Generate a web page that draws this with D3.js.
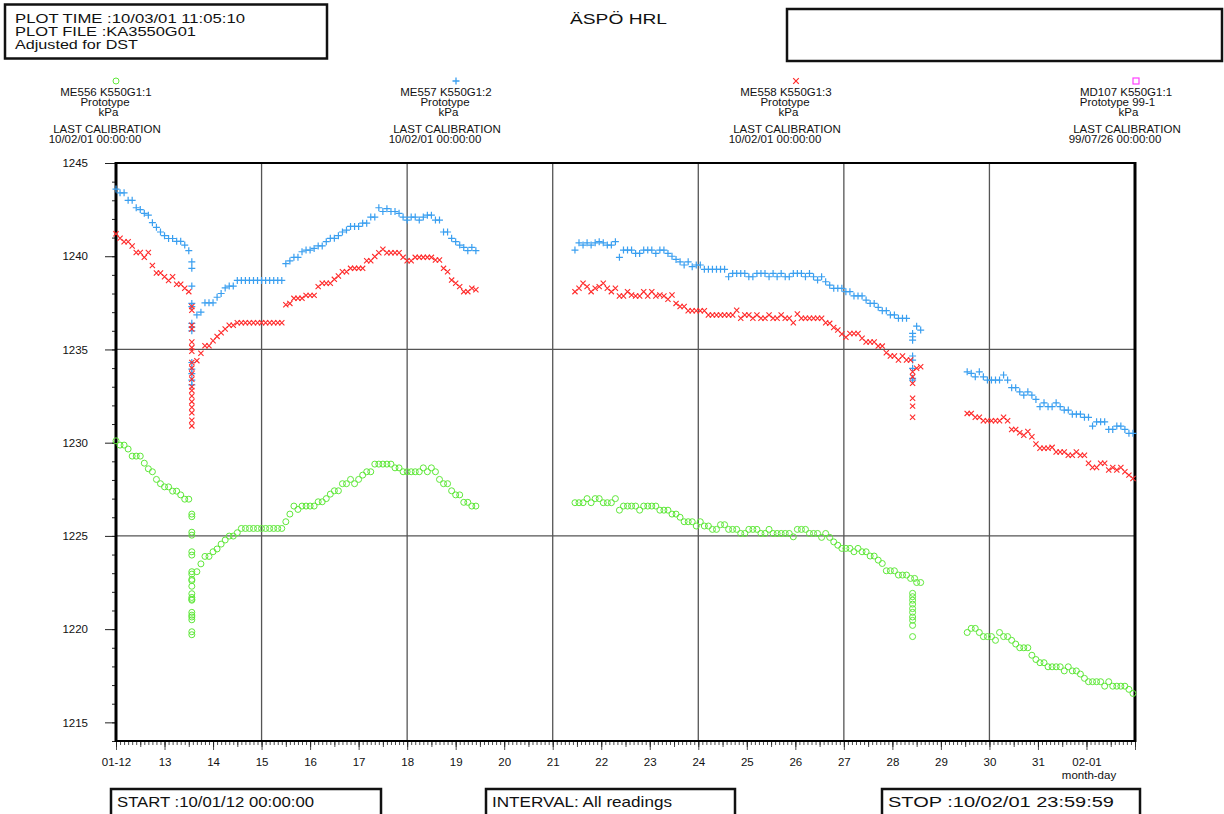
<!DOCTYPE html>
<html><head><meta charset="utf-8">
<script src="https://cdn.jsdelivr.net/npm/d3@7"></script>
<style>
body{margin:0;background:#fff}
svg text{font-family:"Liberation Sans",Arial,Helvetica,sans-serif;fill:#111}
</style>
</head><body>
<svg id="chart" width="1224" height="814"></svg>
<script>
// ---------------- DATA ----------------
const headerLines = ["PLOT TIME :10/03/01 11:05:10", "PLOT FILE :KA3550G01", "Adjusted for DST"];
const title = "ÄSPÖ HRL";
const startLabel = "START :10/01/12 00:00:00";
const intervalLabel = "INTERVAL: All readings";
const stopLabel = "STOP :10/02/01 23:59:59";

const legendNames = ["ME556 K550G1:1", "ME557 K550G1:2", "ME558 K550G1:3", "MD107 K550G1:1"];
const legendTypes = ["Prototype", "Prototype", "Prototype", "Prototype 99-1"];
const legendUnits = ["kPa", "kPa", "kPa", "kPa"];
const legendCal = ["10/02/01 00:00:00", "10/02/01 00:00:00", "10/02/01 00:00:00", "99/07/26 00:00:00"];

const yTicks = [1215, 1220, 1225, 1230, 1235, 1240, 1245];
const yGrid = [1225, 1235];
const xGridDays = [15, 18, 21, 24, 27, 30];

// time: hours after 2010-01-12 00:00, readings logged every 2 h
const stepHours = 2;
const seg1Start = 0, drop1Hour = 37.5, seg1bStart = 40;
const seg2Start = 227, drop2Hour = 394, seg2bStart = 396;
const seg3Start = 421;

// ME556 (green circles)
const green1a = [1230.1,1229.87,1229.87,1229.66,1229.28,1229.28,1229.28,1228.9,1228.6,1228.44,1228.03,1227.8,1227.63,1227.63,1227.4,1227.4,1227.2,1226.97,1226.97];
const green1drop = [1226.17,1226.03,1225.2,1225.04,1224.15,1223.97,1223.08,1222.95,1222.67,1222.6,1222.3,1221.9,1221.7,1221.6,1221.55,1220.9,1220.75,1220.65,1220.5,1219.86,1219.7];
const green1b = [1223.08,1223.5,1223.9,1223.9,1224.15,1224.3,1224.56,1224.78,1224.99,1224.99,1225.17,1225.4,
  1225.4,1225.4,1225.4,1225.4,1225.4,1225.4,1225.4,1225.4,1225.4,1225.4,
  1225.76,1226.17,1226.6,1226.42,1226.6,1226.6,1226.6,1226.6,1226.83,1226.83,
  1227.0,1227.24,1227.42,1227.42,1227.8,1227.8,1228.03,1227.8,1228.03,1228.26,
  1228.44,1228.44,1228.85,1228.85,1228.85,1228.85,1228.85,1228.65,1228.65,1228.44,
  1228.44,1228.44,1228.44,1228.44,1228.65,1228.44,1228.65,1228.44,1228.03,1227.8,
  1227.8,1227.42,1227.2,1227.2,1226.8,1226.8,1226.6,1226.6];
const green2a = [1226.78,1226.78,1226.78,1227.0,1226.78,1227.0,1227.0,1226.78,1226.78,1226.78,
  1227.0,1226.38,1226.6,1226.6,1226.6,1226.6,1226.38,1226.6,1226.6,1226.6,
  1226.6,1226.38,1226.38,1226.38,1226.17,1226.17,1226.0,1225.76,1225.76,1225.76,
  1225.53,1225.76,1225.53,1225.53,1225.35,1225.35,1225.6,1225.6,1225.35,1225.35,
  1225.35,1225.13,1225.13,1225.35,1225.35,1225.35,1225.13,1225.13,1225.35,1225.13,
  1225.13,1225.13,1225.13,1225.13,1224.95,1225.35,1225.35,1225.35,1225.13,1225.13,
  1225.13,1224.92,1225.13,1224.92,1224.68,1224.5,1224.33,1224.33,1224.33,1224.15,
  1224.33,1224.15,1224.15,1223.92,1223.92,1223.7,1223.52,1223.13,1223.13,1223.13,
  1222.9,1222.9,1222.9,1222.72,1222.72];
const green2drop = [1221.92,1221.74,1221.55,1221.34,1221.1,1220.9,1220.65,1220.47,1220.2,1219.6];
const green2b = [1222.5,1222.5];
const green3 = [1219.82,1220.04,1220.04,1219.82,1219.6,1219.6,1219.6,1219.4,1219.82,1219.6,
  1219.6,1219.4,1219.2,1219.0,1219.0,1219.0,1218.6,1218.37,1218.2,1218.2,
  1217.98,1217.98,1217.98,1217.98,1217.76,1217.98,1217.76,1217.76,1217.59,1217.36,
  1217.18,1217.18,1217.18,1217.18,1216.94,1217.18,1216.94,1216.94,1216.94,1216.94,
  1216.77,1216.55];

// ME557 (blue plus)
const blue1a = [1243.6,1243.4,1243.4,1243.0,1243.0,1242.6,1242.5,1242.3,1242.2,1241.8,1241.55,1241.3,1241.1,1240.95,1240.95,1240.8,1240.8,1240.6,1240.3];
const blue1drop = [1239.7,1239.35,1238.4,1237.47,1237.3,1236.4,1236.2,1236.0,1234.3,1233.95,1233.7,1233.35,1233.1];
const blue1b = [1236.85,1237.0,1237.5,1237.5,1237.5,1237.8,1238.0,1238.3,1238.4,1238.4,
  1238.7,1238.7,1238.7,1238.7,1238.7,1238.7,1238.7,1238.7,1238.7,1238.7,1238.7,1238.7,
  1239.6,1239.75,1239.94,1239.94,1240.24,1240.33,1240.33,1240.42,1240.55,1240.55,
  1240.78,1240.96,1240.96,1241.1,1241.3,1241.4,1241.6,1241.6,1241.6,1241.77,
  1241.77,1242.1,1242.1,1242.6,1242.4,1242.55,1242.4,1242.4,1242.3,1242.1,
  1241.94,1242.1,1242.1,1241.94,1242.1,1242.2,1242.2,1241.94,1241.94,1241.3,
  1241.3,1240.96,1240.78,1240.6,1240.47,1240.3,1240.47,1240.3];
const blue2a = [1240.33,1240.72,1240.6,1240.72,1240.6,1240.72,1240.78,1240.72,1240.6,1240.6,
  1240.78,1239.94,1240.33,1240.33,1240.33,1240.15,1240.15,1240.33,1240.33,1240.33,
  1240.15,1240.33,1240.33,1240.15,1240.0,1239.83,1239.7,1239.53,1239.7,1239.44,
  1239.53,1239.53,1239.3,1239.3,1239.3,1239.3,1239.3,1239.3,1238.9,1239.08,
  1239.08,1239.08,1239.08,1238.9,1238.9,1239.08,1239.08,1239.08,1238.9,1239.08,
  1238.9,1239.08,1238.9,1238.9,1239.08,1239.08,1239.08,1238.9,1239.08,1238.9,
  1238.72,1238.9,1238.63,1238.45,1238.28,1238.28,1238.28,1238.1,1238.1,1237.87,
  1237.87,1237.87,1237.65,1237.47,1237.47,1237.26,1237.08,1237.08,1236.85,1236.85,
  1236.67,1236.67,1236.67];
const blue2drop = [1235.86,1235.68,1235.5,1234.65,1234.43,1233.99,1233.45,1233.36];
const blue2b = [1236.25,1236.04];
const blue3 = [1233.8,1233.72,1233.53,1233.8,1233.53,1233.36,1233.36,1233.36,1233.36,1233.63,
  1233.36,1232.95,1232.95,1232.73,1232.55,1232.73,1232.55,1232.32,1231.93,1232.14,
  1231.93,1231.93,1232.14,1231.93,1231.75,1231.75,1231.53,1231.53,1231.53,1231.36,
  1231.36,1230.89,1231.12,1231.12,1231.12,1230.71,1230.71,1230.89,1230.89,1230.71,
  1230.5,1230.5];

// ME558 (red cross)
const red1a = [1241.2,1240.96,1240.78,1240.78,1240.55,1240.2,1240.2,1239.94,1240.2,1239.5,1239.1,1239.1,1238.9,1238.7,1238.9,1238.5,1238.5,1238.28,1238.1];
const red1drop = [1237.3,1237.1,1236.3,1236.1,1235.4,1235.1,1234.9,1234.3,1234.0,1233.7,1233.4,1233.0,1232.8,1232.5,1232.2,1231.9,1231.6,1231.2,1230.9];
const red1b = [1234.4,1234.8,1235.2,1235.2,1235.47,1235.7,1235.9,1236.1,1236.3,1236.3,
  1236.43,1236.43,1236.43,1236.43,1236.43,1236.43,1236.43,1236.43,1236.43,1236.43,1236.43,1236.43,
  1237.4,1237.47,1237.74,1237.74,1237.74,1237.9,1237.9,1237.9,1238.37,1238.55,
  1238.55,1238.55,1238.76,1238.94,1239.17,1239.17,1239.35,1239.35,1239.35,1239.35,
  1239.76,1239.76,1239.98,1240.19,1240.37,1240.19,1240.19,1240.19,1240.19,1239.94,
  1239.76,1239.76,1239.94,1239.94,1239.94,1239.94,1239.94,1239.8,1239.8,1239.35,
  1239.17,1238.72,1238.55,1238.37,1238.1,1238.1,1238.28,1238.2];
const red2a = [1238.1,1238.28,1238.55,1238.37,1238.1,1238.28,1238.37,1238.55,1238.28,1238.1,
  1238.28,1237.87,1237.87,1238.1,1237.92,1237.87,1237.87,1238.1,1237.87,1238.1,
  1237.87,1237.92,1237.87,1237.69,1237.92,1237.47,1237.3,1237.3,1237.08,1237.08,
  1237.08,1237.08,1237.08,1236.85,1236.85,1236.85,1236.85,1236.85,1236.85,1236.85,
  1237.1,1236.67,1236.85,1236.85,1236.67,1236.85,1236.67,1236.67,1236.85,1236.67,
  1236.67,1236.85,1236.67,1236.67,1236.43,1236.9,1236.67,1236.67,1236.67,1236.67,
  1236.67,1236.67,1236.43,1236.4,1236.18,1236.04,1235.83,1235.65,1235.86,1235.86,
  1235.86,1235.6,1235.4,1235.4,1235.4,1235.18,1235.18,1234.82,1234.65,1234.65,
  1234.43,1234.65,1234.43,1234.43];
const red2drop = [1233.8,1233.53,1233.18,1232.38,1231.96,1231.36];
const red2b = [1233.99,1234.07];
const red3 = [1231.57,1231.57,1231.36,1231.36,1231.18,1231.18,1231.18,1231.18,1231.18,1231.36,
  1231.18,1230.71,1230.71,1230.53,1230.4,1230.6,1230.32,1229.93,1229.7,1229.7,
  1229.7,1229.75,1229.5,1229.5,1229.5,1229.33,1229.33,1229.5,1229.33,1229.33,
  1228.9,1228.67,1228.67,1228.9,1228.9,1228.53,1228.67,1228.53,1228.67,1228.44,
  1228.26,1228.08];

const colors = ["#5fe83a", "#3a9ff0", "#ff2a2a", "#ff40ff"];

// ---------------- BUILD ----------------
const T0 = Date.UTC(2010, 0, 12);
const H = 3600 * 1000;
function seq(startH, vals) { return vals.map((v, i) => ({ t: new Date(T0 + (startH + i * stepHours) * H), v })); }
function col(hour, vals) { return vals.map(v => ({ t: new Date(T0 + hour * H), v })); }

const greenPts = [].concat(seq(seg1Start, green1a), col(drop1Hour, green1drop), seq(seg1bStart, green1b),
  seq(seg2Start, green2a), col(drop2Hour, green2drop), seq(seg2bStart, green2b), seq(seg3Start, green3));
const bluePts = [].concat(seq(seg1Start, blue1a), col(drop1Hour, blue1drop), seq(seg1bStart, blue1b),
  seq(seg2Start, blue2a), col(drop2Hour, blue2drop), seq(seg2bStart, blue2b), seq(seg3Start, blue3));
const redPts = [].concat(seq(seg1Start, red1a), col(drop1Hour, red1drop), seq(seg1bStart, red1b),
  seq(seg2Start, red2a), col(drop2Hour, red2drop), seq(seg2bStart, red2b), seq(seg3Start, red3));

const svg = d3.select("#chart");
const L = 116, R = 1135, T = 163, B = 741;
const x = d3.scaleUtc().domain([new Date(T0), new Date(Date.UTC(2010, 1, 2))]).range([L, R]);
const y = d3.scaleLinear().domain([1214, 1245]).range([B, T]);

// header boxes
svg.append("rect").attr("x", 5).attr("y", 4.5).attr("width", 322).attr("height", 54)
  .attr("fill", "none").attr("stroke", "#111").attr("stroke-width", 2.5);
const hdrW = [230, 181, 123];
headerLines.forEach((s, i) => {
  svg.append("text").attr("x", 15).attr("y", 22.5 + i * 13.2).attr("font-size", 13)
    .attr("textLength", hdrW[i]).attr("lengthAdjust", "spacingAndGlyphs").text(s);
});
svg.append("text").attr("x", 570).attr("y", 24).attr("font-size", 15.5)
  .attr("textLength", 97).attr("lengthAdjust", "spacingAndGlyphs").text(title);
svg.append("rect").attr("x", 787).attr("y", 9).attr("width", 435).attr("height", 52)
  .attr("fill", "none").attr("stroke", "#111").attr("stroke-width", 2.5);

// legend
const symbols = [
  g => g.append("circle").attr("r", 3).attr("fill", "none").attr("stroke", colors[0]).attr("stroke-width", 1),
  g => g.append("path").attr("d", "M-3.5,0H3.5M0,-3.5V3.5").attr("stroke", colors[1]).attr("stroke-width", 1.3),
  g => g.append("path").attr("d", "M-2.8,-2.8L2.8,2.8M-2.8,2.8L2.8,-2.8").attr("stroke", colors[2]).attr("stroke-width", 1.2),
  g => g.append("rect").attr("x", -3).attr("y", -3).attr("width", 6).attr("height", 6).attr("fill", "none").attr("stroke", colors[3]).attr("stroke-width", 1.2)
];
legendNames.forEach((name, i) => {
  const cx = 116 + i * 340;
  symbols[i](svg.append("g").attr("transform", `translate(${cx},81)`));
  const g = svg.append("g").attr("font-size", 11.5).attr("text-anchor", "middle");
  g.append("text").attr("x", cx - 10).attr("y", 96).text(name);
  g.append("text").attr("x", cx - (legendTypes[i].length > 10 ? 18.5 : 11)).attr("y", 106).text(legendTypes[i]);
  g.append("text").attr("x", cx - 7.5).attr("y", 116).text(legendUnits[i]);
  g.append("text").attr("x", cx - 9).attr("y", 133).text("LAST CALIBRATION");
  g.append("text").attr("x", cx - 21).attr("y", 143).text(legendCal[i]);
});

// grid
svg.append("g").selectAll("line").data(yGrid).join("line")
  .attr("x1", L).attr("x2", R).attr("y1", d => y(d)).attr("y2", d => y(d))
  .attr("stroke", "#555").attr("stroke-width", 1.3);
svg.append("g").selectAll("line").data(xGridDays).join("line")
  .attr("x1", d => x(new Date(Date.UTC(2010, 0, d)))).attr("x2", d => x(new Date(Date.UTC(2010, 0, d))))
  .attr("y1", T).attr("y2", B).attr("stroke", "#555").attr("stroke-width", 1.3);

// y axis
const yMinor = svg.append("g").attr("transform", `translate(${L},0)`)
  .call(d3.axisLeft(y).tickValues(d3.range(1214, 1246, 1)).tickSize(4).tickFormat(""));
const yMajor = svg.append("g").attr("transform", `translate(${L},0)`)
  .call(d3.axisLeft(y).tickValues(yTicks).tickSize(11).tickPadding(17).tickFormat(d3.format("d")));
[yMinor, yMajor].forEach(g => { g.select(".domain").remove(); g.selectAll("line").attr("stroke", "#222"); });
yMajor.selectAll("text").attr("font-size", 11.5).attr("fill", "#111").attr("font-family", "Liberation Sans, Arial, sans-serif");

// x axis
const xMinor = svg.append("g").attr("transform", `translate(0,${B})`)
  .call(d3.axisBottom(x).ticks(d3.utcHour.every(2)).tickSize(4).tickFormat(""));
const xMid = svg.append("g").attr("transform", `translate(0,${B})`)
  .call(d3.axisBottom(x).ticks(d3.utcHour.every(12)).tickSize(6).tickFormat(""));
const dayFmt = d => {
  if (d.getUTCDate() === 12 && d.getUTCMonth() === 0) return "01-12";
  if (d.getUTCDate() === 1 && d.getUTCMonth() === 1) return "02-01";
  if (d.getUTCMonth() === 1 && d.getUTCDate() === 2) return "";
  return String(d.getUTCDate());
};
const xMajor = svg.append("g").attr("transform", `translate(0,${B})`)
  .call(d3.axisBottom(x).ticks(d3.utcDay.every(1)).tickSize(9).tickPadding(8).tickFormat(dayFmt));
[xMinor, xMid, xMajor].forEach(g => { g.select(".domain").remove(); g.selectAll("line").attr("stroke", "#222").attr("stroke-width", 0.8); });
xMajor.selectAll("text").attr("font-size", 11.5).attr("fill", "#111").attr("font-family", "Liberation Sans, Arial, sans-serif");
svg.append("text").attr("x", 1089).attr("y", 779).attr("text-anchor", "middle").attr("font-size", 11.5).text("month-day");

// frame
svg.append("rect").attr("x", L).attr("y", T).attr("width", R - L).attr("height", B - T)
  .attr("fill", "none").attr("stroke", "#000").attr("stroke-width", 2);
svg.append("line").attr("x1", L).attr("x2", L).attr("y1", T - 1).attr("y2", B + 1).attr("stroke", "#000").attr("stroke-width", 3);
svg.append("line").attr("x1", R).attr("x2", R).attr("y1", T - 1).attr("y2", B + 1).attr("stroke", "#000").attr("stroke-width", 3);

// data markers
const gD = svg.append("g");
gD.selectAll("circle.g").data(greenPts).join("circle").attr("class", "g")
  .attr("cx", d => x(d.t)).attr("cy", d => y(d.v)).attr("r", 3)
  .attr("fill", "none").attr("stroke", colors[0]).attr("stroke-width", 1);
gD.selectAll("path.b").data(bluePts).join("path").attr("class", "b")
  .attr("transform", d => `translate(${x(d.t)},${y(d.v)})`).attr("d", "M-3.5,0H3.5M0,-3.5V3.5")
  .attr("stroke", colors[1]).attr("stroke-width", 1.2);
gD.selectAll("path.r").data(redPts).join("path").attr("class", "r")
  .attr("transform", d => `translate(${x(d.t)},${y(d.v)})`).attr("d", "M-2.6,-2.6L2.6,2.6M-2.6,2.6L2.6,-2.6")
  .attr("stroke", colors[2]).attr("stroke-width", 1.1);

// bottom boxes
const boxes = [[startLabel, 111, 270, 197], [intervalLabel, 486, 249, 180], [stopLabel, 882, 258, 226]];
boxes.forEach(([s, bx, bw, tw]) => {
  svg.append("rect").attr("x", bx).attr("y", 789).attr("width", bw).attr("height", 30)
    .attr("fill", "none").attr("stroke", "#111").attr("stroke-width", 2.5);
  svg.append("text").attr("x", bx + 6).attr("y", 807).attr("font-size", 14.5)
    .attr("textLength", tw).attr("lengthAdjust", "spacingAndGlyphs").text(s);
});
</script>
</body></html>
